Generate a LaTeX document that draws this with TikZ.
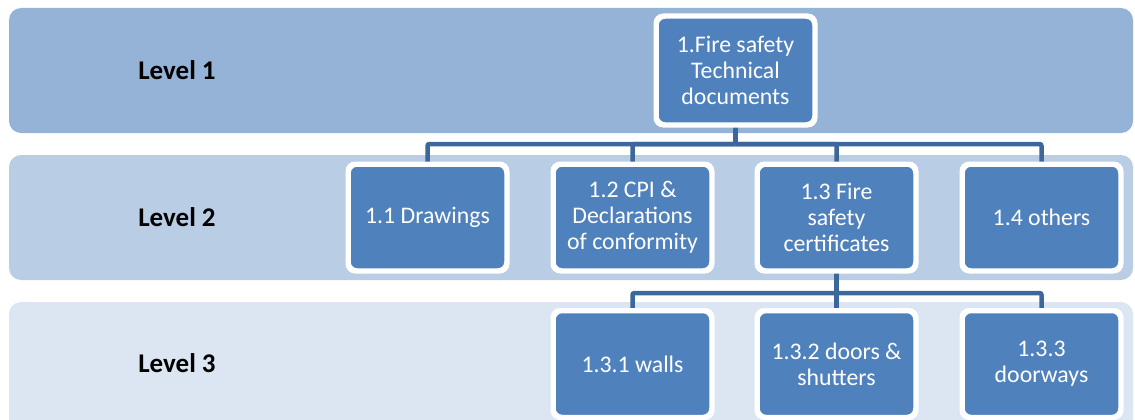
\documentclass[tikz,border=0pt]{standalone}
\usepackage{fontspec}
\setmainfont{Carlito}
\begin{document}
\definecolor{bandA}{HTML}{95B3D7}
\definecolor{bandB}{HTML}{B9CDE5}
\definecolor{bandC}{HTML}{DCE6F2}
\definecolor{boxfill}{HTML}{4F81BD}
\definecolor{linkcol}{HTML}{3C679C}
\begin{tikzpicture}[x=1pt,y=-1pt,
  band/.style={rounded corners=12pt},
  levellabel/.style={anchor=base,font=\fontsize{27}{30}\selectfont\bfseries,text=black},
  item/.style={draw=white,line width=3.5pt,fill=boxfill,rounded corners=8pt,
    minimum width=157pt,minimum height=105pt,inner sep=2pt,align=center,text=white,
    font=\fontsize{23.8}{26}\selectfont},
  conn/.style={draw=linkcol,line width=4.5pt,rounded corners=2pt},
  rim/.style={white,line width=3.5pt,rounded corners=8pt}]
\useasboundingbox (0,0) rectangle (1135,420);
\clip (0,0) rectangle (1135,420);
% horizontal bands
\fill[bandA,band] (9,8) rectangle (1133,133);
\fill[bandB,band] (9,155) rectangle (1133,280);
\fill[bandC,band] (9,302) rectangle (1133,440);
\node[levellabel] (l1) at (177,79) {Level 1};
\node[levellabel] (l2) at (177,226) {Level 2};
\node[levellabel] (l3) at (177,372) {Level 3};
% boxes
\node[item,minimum height=107pt] (b1) at (735.5,70.5) {1.Fire safety\\Technical\\documents};
\node[item] (b11) at (427.5,217.5) {1.1 Drawings};
\node[item] (b12) at (632.5,217.5) {1.2 CPI \&\\Declarations\\of conformity};
\node[item] (b13) at (836.5,217.5) {1.3 Fire\\safety\\certificates};
\node[item] (b14) at (1041.5,217.5) {1.4 others};
\node[item] (b131) at (632.5,364) {1.3.1 walls};
\node[item] (b132) at (836.5,364) {1.3.2 doors \&\\shutters};
\node[item] (b133) at (1041.5,364) {1.3.3\\doorways};
% connectors
\coordinate (hubA) at (735.5,144);
\coordinate (hubB) at (836.5,293);
\draw[conn] (b1.south) -- (hubA);
\draw[conn] (hubA) -| (b11.north);
\draw[conn] (hubA) -| (b12.north);
\draw[conn] (hubA) -| (b13.north);
\draw[conn] (hubA) -| (b14.north);
\draw[conn] (b13.south) -- (hubB);
\draw[conn] (hubB) -| (b131.north);
\draw[conn] (hubB) -| (b133.north);
\draw[conn] (hubB) -- (b132.north);
% white rims drawn again over the connector ends
\foreach \n in {b1,b11,b12,b13,b14,b131,b132,b133}
  \draw[rim] (\n.south west) rectangle (\n.north east);
\end{tikzpicture}
\end{document}
